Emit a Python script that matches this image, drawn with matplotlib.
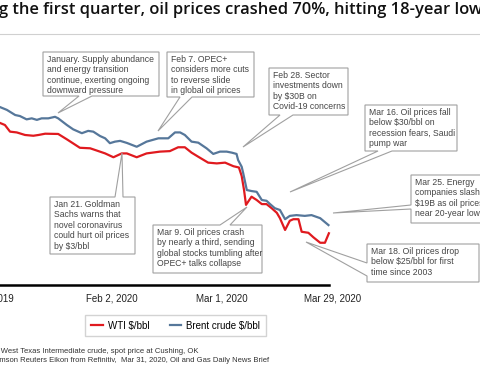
import matplotlib.pyplot as plt
from matplotlib.patches import Polygon

plt.rcParams['font.family'] = ['Liberation Sans', 'DejaVu Sans']
plt.rcParams['text.parse_math'] = False

# x values are days since Jan 1, 2020; prices in $/bbl
wti_day = [3.6, 5.0, 6.3, 8.0, 10.1, 12.2, 13.5, 15.2, 18.5, 20.7, 24.0, 26.6, 28.7, 30.4, 32.5,
           34.6, 35.9, 38.4, 40.9, 44.3, 46.8, 48.9, 50.6, 52.3, 54.0, 56.5, 58.7, 60.8, 62.9, 64.3,
           65.0, 65.6, 66.1, 67.5, 68.8, 70.1, 71.3, 72.6, 73.9, 74.7, 76.0, 77.2, 78.1, 79.4, 80.2,
           81.9, 83.2, 84.9, 86.1, 87.1]
wti_price = [63.4, 62.5, 59.9, 59.6, 58.6, 58.3, 58.6, 59.1, 59.0, 56.9, 53.6, 53.4, 52.3, 51.4, 49.9,
             51.4, 51.4, 49.9, 51.4, 52.1, 52.3, 53.8, 53.8, 51.7, 50.1, 47.8, 47.5, 47.8, 46.4, 45.9,
             42.6, 37.1, 31.3, 34.5, 33.2, 31.6, 31.6, 30.0, 28.2, 26.1, 21.5, 25.1, 25.7, 25.7, 20.8,
             20.4, 18.6, 16.5, 16.5, 20.2]

brent_day = [3.6, 5.5, 7.6, 8.8, 10.5, 11.8, 13.1, 14.3, 16.0, 17.7, 18.5, 20.7, 22.3, 24.5, 26.1,
             27.4, 29.1, 30.4, 31.6, 32.9, 34.2, 35.9, 38.4, 40.9, 43.9, 46.4, 48.1, 49.4, 50.6, 52.3,
             54.0, 56.1, 57.8, 59.5, 61.2, 62.5, 63.7, 64.1, 65.0, 65.4, 66.3, 67.5, 68.8, 70.1, 71.3,
             72.2, 73.4, 74.7, 76.0, 77.2, 78.9, 81.0, 82.7, 84.9, 87.0]
brent_price = [69.6, 68.4, 66.4, 66.0, 64.7, 65.1, 64.5, 65.1, 65.1, 65.7, 65.1, 62.5, 60.8, 59.3, 60.2,
               59.9, 58.2, 57.3, 55.4, 56.0, 56.3, 55.5, 54.0, 56.0, 57.3, 57.3, 59.6, 59.6, 58.6, 56.0,
               55.6, 53.4, 51.2, 52.1, 52.1, 51.7, 51.2, 48.8, 46.2, 43.6, 37.1, 36.7, 36.4, 33.2, 32.9,
               31.6, 30.0, 29.3, 25.7, 27.0, 27.3, 27.0, 27.3, 26.1, 23.4]

tick_day = [0, 32, 60, 88]
tick_labels = ['Dec 31, 2019', 'Feb 2, 2020', 'Mar 1, 2020', 'Mar 29, 2020']

RED = '#e01a1f'
BLUE = '#56779a'
W, H = 480, 370

fig = plt.figure(figsize=(4.8, 3.7), dpi=100)


def px_box(x0, y0, x1, y1):
    return [x0 / W, 1 - y1 / H, (x1 - x0) / W, (y1 - y0) / H]


ax = fig.add_axes(px_box(-30.6, 29, 458.7, 285))
ax.plot(wti_day, wti_price, color=RED, lw=1.6, label='WTI $/bbl')
ax.plot(brent_day, brent_price, color=BLUE, lw=1.6, label='Brent crude $/bbl')
ax.set_xlim(-4, 120)
ax.set_ylim(0, 100)
for s in ['top', 'right', 'left']:
    ax.spines[s].set_visible(False)
ax.spines['bottom'].set_bounds(-4, 87.2)
ax.spines['bottom'].set_linewidth(1.8)
ax.set_yticks([])
ax.set_xticks(tick_day, tick_labels)
ax.tick_params(axis='x', length=0, pad=6, labelsize=7, labelcolor='#222222')

fig.legend(loc='center', bbox_to_anchor=(175.5 / W, 1 - 325.5 / H), ncol=2,
           fancybox=False, edgecolor='#c8c8c8', fontsize=7, handlelength=1.2,
           handletextpad=0.5, columnspacing=2.1, borderpad=0.6, borderaxespad=0)

# overlay in pixel coordinates for title, callouts and notes
ov = fig.add_axes([0, 0, 1, 1])
ov.set_xlim(0, W)
ov.set_ylim(H, 0)
ov.axis('off')

ov.text(-1, 14.5, 'g the first quarter, oil prices crashed 70%, hitting 18-year lows',
        fontsize=11.9, fontweight='semibold', family=['Open Sans', 'DejaVu Sans'],
        color='#111111', va='baseline')
ov.plot([0, W], [34, 34], color='#d0d0d0', lw=0.8)


def callout(x0, y0, x1, y1, side, b1, b2, tip, text):
    if side == 'bottom':
        pts = [(x0, y0), (x1, y0), (x1, y1), (b2, y1), tip, (b1, y1), (x0, y1)]
    elif side == 'top':
        pts = [(x0, y0), (b1, y0), tip, (b2, y0), (x1, y0), (x1, y1), (x0, y1)]
    else:
        pts = [(x0, y0), (x1, y0), (x1, y1), (x0, y1), (x0, b2), tip, (x0, b1)]
    ov.add_patch(Polygon(pts, closed=True, fc='white', ec='#a0a0a0', lw=0.8))
    ov.text(x0 + 4, y0 + 3, text, fontsize=6.2, color='#454545', va='top', ha='left',
            linespacing=1.2)


callout(43, 52, 159, 96, 'bottom', 79, 92, (58, 113),
        'January. Supply abundance\nand energy transition\ncontinue, exerting ongoing\ndownward pressure')
callout(167, 52, 254, 97, 'bottom', 180, 192, (158, 131),
        'Feb 7. OPEC+\nconsiders more cuts\nto reverse slide\nin global oil prices')
callout(269, 68, 348, 115, 'bottom', 280, 293, (243, 147),
        'Feb 28. Sector\ninvestments down\nby $30B on\nCovid-19 concerns')
callout(365, 105, 457, 151, 'bottom', 378, 392, (290, 192),
        'Mar 16. Oil prices fall\nbelow $30/bbl on\nrecession fears, Saudi\npump war')
callout(411, 175, 495, 223, 'left', 205, 209, (333, 213),
        'Mar 25. Energy\ncompanies slash\n$19B as oil prices\nnear 20-year lows')
callout(367, 244, 479, 282, 'left', 263, 276, (306, 242),
        'Mar 18. Oil prices drop\nbelow $25/bbl for first\ntime since 2003')
callout(50, 197, 135, 254, 'top', 115, 123, (122, 153),
        'Jan 21. Goldman\nSachs warns that\nnovel coronavirus\ncould hurt oil prices\nby $3/bbl')
callout(153, 225, 262, 273, 'top', 220, 230, (247, 207),
        'Mar 9. Oil prices crash\nby nearly a third, sending\nglobal stocks tumbling after\nOPEC+ talks collapse')

ov.text(199, 351.5, 'WTI = West Texas Intermediate crude, spot price at Cushing, OK',
        ha='right', va='center', fontsize=5.5, color='#333333')
ov.text(269, 361, 'Source: Thomson Reuters Eikon from Refinitiv,  Mar 31, 2020, Oil and Gas Daily News Brief',
        ha='right', va='center', fontsize=5.5, color='#333333')

fig.savefig('out.png', dpi=100)
